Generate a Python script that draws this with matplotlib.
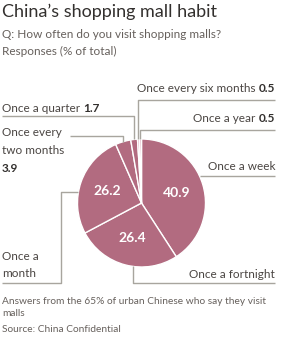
import numpy as np
import matplotlib.pyplot as plt

# data
categories = ['Once a week', 'Once a fortnight', 'Once a month', 'Once every two months',
              'Once a quarter', 'Once every six months', 'Once a year']
values = [40.9, 26.4, 26.2, 3.9, 1.7, 0.5, 0.5]
slice_colors = ['#b26b80', '#b26b80', '#b26b80', '#b26b80', '#b26b80', '#dba8b8', '#dba8b8']

TITLE = "China\u2019s shopping mall habit"
SUBTITLE = ["Q: How often do you visit shopping malls?", "Responses (% of total)"]
FOOTNOTE = ["Answers from the 65% of urban Chinese who say they visit", "malls"]
SOURCE = "Source: China Confidential"

W, H = 301, 337
CX, CY, R = 141.5, 203.0, 64.0
LINE_C = '#a8a59e'
TXT_C = '#4a4542'
VAL_C = '#33302e'
NOTE_C = '#66605c'
fs = 8.5
plt.rcParams['font.family'] = ['Lato', 'DejaVu Sans']

fig = plt.figure(figsize=(W / 100, H / 100), dpi=100)
fig.patch.set_facecolor('white')
ax = fig.add_axes([0, 0, 1, 1])

# pie on an inverted y axis: startangle -90 is screen top, counterclock runs clockwise on screen
wedges, _ = ax.pie(values, colors=slice_colors, startangle=-90, counterclock=True,
                   center=(CX, CY), radius=R, frame=True,
                   wedgeprops=dict(edgecolor='white', linewidth=1))
ax.set_xlim(0, W)
ax.set_ylim(H, 0)
ax.set_aspect('equal')
ax.axis('off')


def mid_x(w):
    a = np.deg2rad((w.theta1 + w.theta2) / 2)
    return CX + R * np.cos(a)


def top_y(x):
    return CY - np.sqrt(R ** 2 - (x - CX) ** 2)


def bot_y(x):
    return CY + np.sqrt(R ** 2 - (x - CX) ** 2)


def side_x(y, side):
    return CX + side * np.sqrt(R ** 2 - (y - CY) ** 2)


# values inside the big slices
for w, v in zip(wedges, values):
    if v < 10:
        continue
    a = np.deg2rad((w.theta1 + w.theta2) / 2)
    d = R * 0.57
    ax.text(CX + d * np.cos(a), CY + d * np.sin(a), f'{v:.1f}', color='white',
            fontsize=10, fontweight='bold', ha='center', va='center')

# leader lines
lk = dict(color=LINE_C, lw=1, solid_capstyle='butt')
x = mid_x(wedges[5])
ax.plot([275, x, x], [100, 100, top_y(x)], **lk)
x = mid_x(wedges[6])
ax.plot([275, x, x], [130, 130, top_y(x)], **lk)
x = mid_x(wedges[4])
ax.plot([2, x, x], [116, 116, top_y(x)], **lk)
x = mid_x(wedges[3])
ax.plot([70, x, x], [136, 136, top_y(x)], **lk)
ax.plot([275, side_x(176, 1)], [176, 176], **lk)
ax.plot([2, 61, 61, side_x(192, -1)], [283, 283, 192, 192], **lk)
ax.plot([275, 133, 133], [283, 283, bot_y(133)], **lk)


def label_value(xp, y, label, val, ha):
    """label text followed by bold value"""
    if ha == 'left':
        t1 = ax.text(xp, y, label + ' ', ha='left', va='baseline', color=TXT_C, fontsize=fs)
        ax.annotate(f'{val}', xycoords=t1, xy=(1, 0), va='bottom', ha='left',
                    color=VAL_C, fontsize=fs, fontweight='bold')
    else:
        t1 = ax.text(xp, y, f'{val}', ha='right', va='baseline', color=VAL_C,
                     fontsize=fs, fontweight='bold')
        ax.annotate(label + ' ', xycoords=t1, xy=(0, 0), va='bottom', ha='right',
                    color=TXT_C, fontsize=fs)


label_value(275, 92, categories[5], values[5], 'right')
label_value(275, 122.5, categories[6], values[6], 'right')
label_value(2, 112, categories[4], values[4], 'left')
ax.text(2, 136, 'Once every', ha='left', va='baseline', color=TXT_C, fontsize=fs)
ax.text(2, 154, 'two months', ha='left', va='baseline', color=TXT_C, fontsize=fs)
ax.text(2, 172, f'{values[3]}', ha='left', va='baseline', color=VAL_C, fontsize=fs,
        fontweight='bold')
ax.text(275, 169.5, categories[0], ha='right', va='baseline', color=TXT_C, fontsize=fs)
ax.text(2, 259.5, 'Once a', ha='left', va='baseline', color=TXT_C, fontsize=fs)
ax.text(2, 277, 'month', ha='left', va='baseline', color=TXT_C, fontsize=fs)
ax.text(275, 277.5, categories[1], ha='right', va='baseline', color=TXT_C, fontsize=fs)

# titles and notes
ax.text(2, 17.5, TITLE, ha='left', va='baseline', color=VAL_C, fontsize=13)
ax.text(2, 37.5, SUBTITLE[0], ha='left', va='baseline', color=NOTE_C, fontsize=8.5)
ax.text(2, 55, SUBTITLE[1], ha='left', va='baseline', color=NOTE_C, fontsize=8.5)
ax.text(2, 303.5, FOOTNOTE[0], ha='left', va='baseline', color=NOTE_C, fontsize=7.3)
ax.text(2, 316.5, FOOTNOTE[1], ha='left', va='baseline', color=NOTE_C, fontsize=7.3)
ax.text(2, 332, SOURCE, ha='left', va='baseline', color=NOTE_C, fontsize=7.3)

fig.savefig('out.png', dpi=100, facecolor='white')
